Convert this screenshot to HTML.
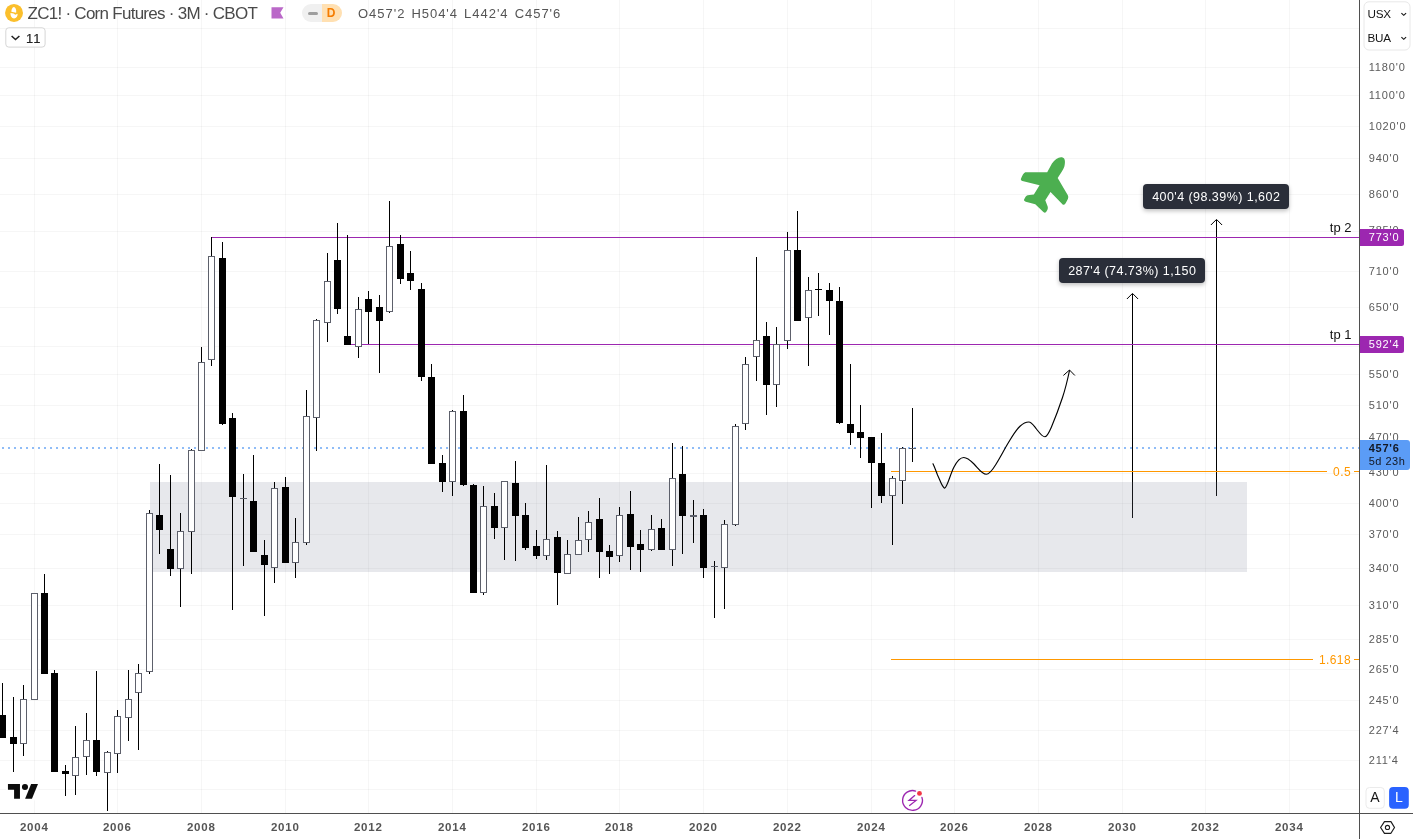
<!DOCTYPE html>
<html><head><meta charset="utf-8"><title>ZC1! Corn Futures</title>
<style>
*{box-sizing:border-box;margin:0;padding:0}
html,body{width:1413px;height:839px;overflow:hidden;background:#fff}
body{position:relative;font-family:"Liberation Sans",sans-serif;color:#555}
.abs{position:absolute}
.pl{position:absolute;left:1368.7px;height:14px;line-height:14px;font-size:11px;letter-spacing:0.85px;color:#5a5a5a;white-space:nowrap}
.yl{position:absolute;top:820px;width:60px;text-align:center;font-size:11.5px;font-weight:bold;letter-spacing:0.8px;color:#555;line-height:14px}
.tip{position:absolute;background:#2a2e39;color:#fff;border-radius:4px;font-size:12.5px;text-align:center;white-space:nowrap;letter-spacing:0.45px;padding-left:0.45px;box-shadow:0 2px 4px rgba(0,0,0,0.25)}
.tag{position:absolute;left:1360px;color:#fff;font-size:11px;letter-spacing:0.85px;padding-left:8.7px;white-space:nowrap}
</style></head><body>
<svg class="abs" style="left:0;top:0" width="1360" height="813" viewBox="0 0 1360 813" shape-rendering="crispEdges">
<rect x="34" y="0" width="1" height="813" fill="#000" fill-opacity="0.035"/>
<rect x="117" y="0" width="1" height="813" fill="#000" fill-opacity="0.035"/>
<rect x="201" y="0" width="1" height="813" fill="#000" fill-opacity="0.035"/>
<rect x="285" y="0" width="1" height="813" fill="#000" fill-opacity="0.035"/>
<rect x="368" y="0" width="1" height="813" fill="#000" fill-opacity="0.035"/>
<rect x="452" y="0" width="1" height="813" fill="#000" fill-opacity="0.035"/>
<rect x="536" y="0" width="1" height="813" fill="#000" fill-opacity="0.035"/>
<rect x="619" y="0" width="1" height="813" fill="#000" fill-opacity="0.035"/>
<rect x="703" y="0" width="1" height="813" fill="#000" fill-opacity="0.035"/>
<rect x="787" y="0" width="1" height="813" fill="#000" fill-opacity="0.035"/>
<rect x="871" y="0" width="1" height="813" fill="#000" fill-opacity="0.035"/>
<rect x="954" y="0" width="1" height="813" fill="#000" fill-opacity="0.035"/>
<rect x="1038" y="0" width="1" height="813" fill="#000" fill-opacity="0.035"/>
<rect x="1122" y="0" width="1" height="813" fill="#000" fill-opacity="0.035"/>
<rect x="1205" y="0" width="1" height="813" fill="#000" fill-opacity="0.035"/>
<rect x="1289" y="0" width="1" height="813" fill="#000" fill-opacity="0.035"/>
<rect x="0" y="28" width="1360" height="1" fill="#000" fill-opacity="0.035"/>
<rect x="0" y="67" width="1360" height="1" fill="#000" fill-opacity="0.035"/>
<rect x="0" y="95" width="1360" height="1" fill="#000" fill-opacity="0.035"/>
<rect x="0" y="126" width="1360" height="1" fill="#000" fill-opacity="0.035"/>
<rect x="0" y="158" width="1360" height="1" fill="#000" fill-opacity="0.035"/>
<rect x="0" y="194" width="1360" height="1" fill="#000" fill-opacity="0.035"/>
<rect x="0" y="231" width="1360" height="1" fill="#000" fill-opacity="0.035"/>
<rect x="0" y="271" width="1360" height="1" fill="#000" fill-opacity="0.035"/>
<rect x="0" y="307" width="1360" height="1" fill="#000" fill-opacity="0.035"/>
<rect x="0" y="346" width="1360" height="1" fill="#000" fill-opacity="0.035"/>
<rect x="0" y="374" width="1360" height="1" fill="#000" fill-opacity="0.035"/>
<rect x="0" y="405" width="1360" height="1" fill="#000" fill-opacity="0.035"/>
<rect x="0" y="438" width="1360" height="1" fill="#000" fill-opacity="0.035"/>
<rect x="0" y="473" width="1360" height="1" fill="#000" fill-opacity="0.035"/>
<rect x="0" y="503" width="1360" height="1" fill="#000" fill-opacity="0.035"/>
<rect x="0" y="534" width="1360" height="1" fill="#000" fill-opacity="0.035"/>
<rect x="0" y="568" width="1360" height="1" fill="#000" fill-opacity="0.035"/>
<rect x="0" y="605" width="1360" height="1" fill="#000" fill-opacity="0.035"/>
<rect x="0" y="639" width="1360" height="1" fill="#000" fill-opacity="0.035"/>
<rect x="0" y="669" width="1360" height="1" fill="#000" fill-opacity="0.035"/>
<rect x="0" y="700" width="1360" height="1" fill="#000" fill-opacity="0.035"/>
<rect x="0" y="730" width="1360" height="1" fill="#000" fill-opacity="0.035"/>
<rect x="0" y="760" width="1360" height="1" fill="#000" fill-opacity="0.035"/>
<rect x="0" y="789" width="1360" height="1" fill="#000" fill-opacity="0.035"/>
<rect x="1132" y="294" width="1" height="224" fill="#000"/>
<rect x="1216" y="220" width="1" height="276" fill="#000"/>
<rect x="150" y="482" width="1097" height="90" fill="#7c8298" fill-opacity="0.18"/>
<path d="M2 448h2 M8 448h2 M14 448h2 M20 448h2 M26 448h2 M32 448h2 M38 448h2 M44 448h2 M50 448h2 M56 448h2 M62 448h2 M68 448h2 M74 448h2 M80 448h2 M86 448h2 M92 448h2 M98 448h2 M104 448h2 M110 448h2 M116 448h2 M122 448h2 M128 448h2 M134 448h2 M140 448h2 M146 448h2 M152 448h2 M158 448h2 M164 448h2 M170 448h2 M176 448h2 M182 448h2 M188 448h2 M194 448h2 M200 448h2 M206 448h2 M212 448h2 M218 448h2 M224 448h2 M230 448h2 M236 448h2 M242 448h2 M248 448h2 M254 448h2 M260 448h2 M266 448h2 M272 448h2 M278 448h2 M284 448h2 M290 448h2 M296 448h2 M302 448h2 M308 448h2 M314 448h2 M320 448h2 M326 448h2 M332 448h2 M338 448h2 M344 448h2 M350 448h2 M356 448h2 M362 448h2 M368 448h2 M374 448h2 M380 448h2 M386 448h2 M392 448h2 M398 448h2 M404 448h2 M410 448h2 M416 448h2 M422 448h2 M428 448h2 M434 448h2 M440 448h2 M446 448h2 M452 448h2 M458 448h2 M464 448h2 M470 448h2 M476 448h2 M482 448h2 M488 448h2 M494 448h2 M500 448h2 M506 448h2 M512 448h2 M518 448h2 M524 448h2 M530 448h2 M536 448h2 M542 448h2 M548 448h2 M554 448h2 M560 448h2 M566 448h2 M572 448h2 M578 448h2 M584 448h2 M590 448h2 M596 448h2 M602 448h2 M608 448h2 M614 448h2 M620 448h2 M626 448h2 M632 448h2 M638 448h2 M644 448h2 M650 448h2 M656 448h2 M662 448h2 M668 448h2 M674 448h2 M680 448h2 M686 448h2 M692 448h2 M698 448h2 M704 448h2 M710 448h2 M716 448h2 M722 448h2 M728 448h2 M734 448h2 M740 448h2 M746 448h2 M752 448h2 M758 448h2 M764 448h2 M770 448h2 M776 448h2 M782 448h2 M788 448h2 M794 448h2 M800 448h2 M806 448h2 M812 448h2 M818 448h2 M824 448h2 M830 448h2 M836 448h2 M842 448h2 M848 448h2 M854 448h2 M860 448h2 M866 448h2 M872 448h2 M878 448h2 M884 448h2 M890 448h2 M896 448h2 M902 448h2 M908 448h2 M914 448h2 M920 448h2 M926 448h2 M932 448h2 M938 448h2 M944 448h2 M950 448h2 M956 448h2 M962 448h2 M968 448h2 M974 448h2 M980 448h2 M986 448h2 M992 448h2 M998 448h2 M1004 448h2 M1010 448h2 M1016 448h2 M1022 448h2 M1028 448h2 M1034 448h2 M1040 448h2 M1046 448h2 M1052 448h2 M1058 448h2 M1064 448h2 M1070 448h2 M1076 448h2 M1082 448h2 M1088 448h2 M1094 448h2 M1100 448h2 M1106 448h2 M1112 448h2 M1118 448h2 M1124 448h2 M1130 448h2 M1136 448h2 M1142 448h2 M1148 448h2 M1154 448h2 M1160 448h2 M1166 448h2 M1172 448h2 M1178 448h2 M1184 448h2 M1190 448h2 M1196 448h2 M1202 448h2 M1208 448h2 M1214 448h2 M1220 448h2 M1226 448h2 M1232 448h2 M1238 448h2 M1244 448h2 M1250 448h2 M1256 448h2 M1262 448h2 M1268 448h2 M1274 448h2 M1280 448h2 M1286 448h2 M1292 448h2 M1298 448h2 M1304 448h2 M1310 448h2 M1316 448h2 M1322 448h2 M1328 448h2 M1334 448h2 M1340 448h2 M1346 448h2 M1352 448h2 M1358 448h2" stroke="#8fbcf7" stroke-width="2" fill="none"/>
<rect x="211" y="237" width="1149" height="1" fill="#9c27b0"/>
<rect x="347" y="344" width="1013" height="1" fill="#9c27b0"/>
<rect x="891" y="471" width="436" height="1" fill="#ff9800"/>
<rect x="1354" y="471" width="6" height="1" fill="#ff9800"/>
<rect x="891" y="659" width="422" height="1" fill="#ff9800"/>
<rect x="1354" y="659" width="6" height="1" fill="#ff9800"/>
<rect x="2" y="683" width="1" height="55" fill="#000"/>
<rect x="-1" y="715" width="7" height="23" fill="#000"/>
<rect x="13" y="697" width="1" height="75" fill="#000"/>
<rect x="10" y="737" width="7" height="7" fill="#000"/>
<rect x="23" y="685" width="1" height="71" fill="#000"/>
<rect x="20.5" y="699.5" width="6" height="44" fill="#fff" stroke="#5d606b" stroke-width="1"/>
<rect x="34" y="593" width="1" height="107" fill="#000"/>
<rect x="31.5" y="593.5" width="6" height="106" fill="#fff" stroke="#5d606b" stroke-width="1"/>
<rect x="44" y="574" width="1" height="100" fill="#000"/>
<rect x="41" y="593" width="7" height="81" fill="#000"/>
<rect x="54" y="670" width="1" height="102" fill="#000"/>
<rect x="51" y="673" width="7" height="99" fill="#000"/>
<rect x="65" y="765" width="1" height="31" fill="#000"/>
<rect x="62" y="771" width="7" height="3" fill="#000"/>
<rect x="75" y="726" width="1" height="69" fill="#000"/>
<rect x="72.5" y="757.5" width="6" height="18" fill="#fff" stroke="#5d606b" stroke-width="1"/>
<rect x="86" y="713" width="1" height="62" fill="#000"/>
<rect x="83.5" y="740.5" width="6" height="16" fill="#fff" stroke="#5d606b" stroke-width="1"/>
<rect x="96" y="671" width="1" height="105" fill="#000"/>
<rect x="93" y="740" width="7" height="32" fill="#000"/>
<rect x="107" y="751" width="1" height="60" fill="#000"/>
<rect x="104.5" y="752.5" width="6" height="20" fill="#fff" stroke="#5d606b" stroke-width="1"/>
<rect x="117" y="710" width="1" height="63" fill="#000"/>
<rect x="114.5" y="716.5" width="6" height="37" fill="#fff" stroke="#5d606b" stroke-width="1"/>
<rect x="128" y="670" width="1" height="71" fill="#000"/>
<rect x="125.5" y="699.5" width="6" height="18" fill="#fff" stroke="#5d606b" stroke-width="1"/>
<rect x="138" y="664" width="1" height="86" fill="#000"/>
<rect x="135.5" y="673.5" width="6" height="19" fill="#fff" stroke="#5d606b" stroke-width="1"/>
<rect x="149" y="510" width="1" height="164" fill="#000"/>
<rect x="146.5" y="513.5" width="6" height="158" fill="#fff" stroke="#5d606b" stroke-width="1"/>
<rect x="159" y="464" width="1" height="90" fill="#000"/>
<rect x="156" y="515" width="7" height="15" fill="#000"/>
<rect x="170" y="475" width="1" height="101" fill="#000"/>
<rect x="167" y="549" width="7" height="20" fill="#000"/>
<rect x="180" y="513" width="1" height="94" fill="#000"/>
<rect x="177.5" y="531.5" width="6" height="37" fill="#fff" stroke="#5d606b" stroke-width="1"/>
<rect x="191" y="449" width="1" height="125" fill="#000"/>
<rect x="188.5" y="450.5" width="6" height="81" fill="#fff" stroke="#5d606b" stroke-width="1"/>
<rect x="201" y="347" width="1" height="104" fill="#000"/>
<rect x="198.5" y="362.5" width="6" height="88" fill="#fff" stroke="#5d606b" stroke-width="1"/>
<rect x="211" y="237" width="1" height="129" fill="#000"/>
<rect x="208.5" y="256.5" width="6" height="103" fill="#fff" stroke="#5d606b" stroke-width="1"/>
<rect x="222" y="242" width="1" height="183" fill="#000"/>
<rect x="219" y="258" width="7" height="166" fill="#000"/>
<rect x="232" y="413" width="1" height="197" fill="#000"/>
<rect x="229" y="418" width="7" height="79" fill="#000"/>
<rect x="243" y="474" width="1" height="92" fill="#000"/>
<rect x="240" y="498" width="7" height="1" fill="#5d606b"/>
<rect x="253" y="455" width="1" height="97" fill="#000"/>
<rect x="250" y="501" width="7" height="51" fill="#000"/>
<rect x="264" y="540" width="1" height="76" fill="#000"/>
<rect x="261" y="555" width="7" height="10" fill="#000"/>
<rect x="274" y="482" width="1" height="101" fill="#000"/>
<rect x="271.5" y="488.5" width="6" height="79" fill="#fff" stroke="#5d606b" stroke-width="1"/>
<rect x="285" y="477" width="1" height="86" fill="#000"/>
<rect x="282" y="487" width="7" height="76" fill="#000"/>
<rect x="295" y="518" width="1" height="60" fill="#000"/>
<rect x="292.5" y="542.5" width="6" height="20" fill="#fff" stroke="#5d606b" stroke-width="1"/>
<rect x="306" y="390" width="1" height="155" fill="#000"/>
<rect x="303.5" y="416.5" width="6" height="126" fill="#fff" stroke="#5d606b" stroke-width="1"/>
<rect x="316" y="319" width="1" height="132" fill="#000"/>
<rect x="313.5" y="320.5" width="6" height="97" fill="#fff" stroke="#5d606b" stroke-width="1"/>
<rect x="327" y="253" width="1" height="89" fill="#000"/>
<rect x="324.5" y="281.5" width="6" height="41" fill="#fff" stroke="#5d606b" stroke-width="1"/>
<rect x="337" y="223" width="1" height="91" fill="#000"/>
<rect x="334" y="260" width="7" height="49" fill="#000"/>
<rect x="347" y="235" width="1" height="110" fill="#000"/>
<rect x="344" y="336" width="7" height="9" fill="#000"/>
<rect x="358" y="297" width="1" height="61" fill="#000"/>
<rect x="355.5" y="309.5" width="6" height="37" fill="#fff" stroke="#5d606b" stroke-width="1"/>
<rect x="368" y="291" width="1" height="53" fill="#000"/>
<rect x="365" y="299" width="7" height="13" fill="#000"/>
<rect x="379" y="295" width="1" height="78" fill="#000"/>
<rect x="376" y="307" width="7" height="14" fill="#000"/>
<rect x="389" y="201" width="1" height="112" fill="#000"/>
<rect x="386.5" y="246.5" width="6" height="65" fill="#fff" stroke="#5d606b" stroke-width="1"/>
<rect x="400" y="235" width="1" height="49" fill="#000"/>
<rect x="397" y="244" width="7" height="35" fill="#000"/>
<rect x="410" y="251" width="1" height="39" fill="#000"/>
<rect x="407" y="273" width="7" height="8" fill="#000"/>
<rect x="421" y="283" width="1" height="98" fill="#000"/>
<rect x="418" y="289" width="7" height="88" fill="#000"/>
<rect x="431" y="364" width="1" height="100" fill="#000"/>
<rect x="428" y="377" width="7" height="87" fill="#000"/>
<rect x="442" y="455" width="1" height="37" fill="#000"/>
<rect x="439" y="463" width="7" height="19" fill="#000"/>
<rect x="452" y="410" width="1" height="86" fill="#000"/>
<rect x="449.5" y="411.5" width="6" height="70" fill="#fff" stroke="#5d606b" stroke-width="1"/>
<rect x="463" y="395" width="1" height="91" fill="#000"/>
<rect x="460" y="411" width="7" height="74" fill="#000"/>
<rect x="473" y="484" width="1" height="109" fill="#000"/>
<rect x="470" y="485" width="7" height="108" fill="#000"/>
<rect x="483" y="486" width="1" height="109" fill="#000"/>
<rect x="480.5" y="506.5" width="6" height="86" fill="#fff" stroke="#5d606b" stroke-width="1"/>
<rect x="494" y="493" width="1" height="46" fill="#000"/>
<rect x="491" y="506" width="7" height="22" fill="#000"/>
<rect x="504" y="481" width="1" height="79" fill="#000"/>
<rect x="501.5" y="481.5" width="6" height="46" fill="#fff" stroke="#5d606b" stroke-width="1"/>
<rect x="515" y="461" width="1" height="100" fill="#000"/>
<rect x="512" y="483" width="7" height="33" fill="#000"/>
<rect x="525" y="503" width="1" height="47" fill="#000"/>
<rect x="522" y="515" width="7" height="33" fill="#000"/>
<rect x="536" y="530" width="1" height="29" fill="#000"/>
<rect x="533" y="546" width="7" height="10" fill="#000"/>
<rect x="546" y="465" width="1" height="95" fill="#000"/>
<rect x="543.5" y="539.5" width="6" height="16" fill="#fff" stroke="#5d606b" stroke-width="1"/>
<rect x="557" y="531" width="1" height="74" fill="#000"/>
<rect x="554" y="537" width="7" height="36" fill="#000"/>
<rect x="567" y="540" width="1" height="34" fill="#000"/>
<rect x="564.5" y="554.5" width="6" height="19" fill="#fff" stroke="#5d606b" stroke-width="1"/>
<rect x="578" y="517" width="1" height="38" fill="#000"/>
<rect x="575.5" y="540.5" width="6" height="14" fill="#fff" stroke="#5d606b" stroke-width="1"/>
<rect x="588" y="511" width="1" height="41" fill="#000"/>
<rect x="585.5" y="522.5" width="6" height="17" fill="#fff" stroke="#5d606b" stroke-width="1"/>
<rect x="599" y="498" width="1" height="80" fill="#000"/>
<rect x="596" y="519" width="7" height="33" fill="#000"/>
<rect x="609" y="545" width="1" height="29" fill="#000"/>
<rect x="606" y="551" width="7" height="6" fill="#000"/>
<rect x="619" y="507" width="1" height="55" fill="#000"/>
<rect x="616.5" y="515.5" width="6" height="40" fill="#fff" stroke="#5d606b" stroke-width="1"/>
<rect x="630" y="491" width="1" height="79" fill="#000"/>
<rect x="627" y="514" width="7" height="33" fill="#000"/>
<rect x="640" y="530" width="1" height="42" fill="#000"/>
<rect x="637" y="544" width="7" height="6" fill="#000"/>
<rect x="651" y="515" width="1" height="36" fill="#000"/>
<rect x="648.5" y="529.5" width="6" height="20" fill="#fff" stroke="#5d606b" stroke-width="1"/>
<rect x="661" y="519" width="1" height="31" fill="#000"/>
<rect x="658" y="528" width="7" height="22" fill="#000"/>
<rect x="672" y="443" width="1" height="123" fill="#000"/>
<rect x="669.5" y="478.5" width="6" height="71" fill="#fff" stroke="#5d606b" stroke-width="1"/>
<rect x="682" y="446" width="1" height="108" fill="#000"/>
<rect x="679" y="474" width="7" height="42" fill="#000"/>
<rect x="693" y="500" width="1" height="43" fill="#000"/>
<rect x="690" y="515" width="7" height="2" fill="#5d606b"/>
<rect x="703" y="509" width="1" height="69" fill="#000"/>
<rect x="700" y="515" width="7" height="53" fill="#000"/>
<rect x="714" y="561" width="1" height="57" fill="#000"/>
<rect x="711" y="566" width="7" height="1" fill="#5d606b"/>
<rect x="724" y="520" width="1" height="89" fill="#000"/>
<rect x="721.5" y="524.5" width="6" height="43" fill="#fff" stroke="#5d606b" stroke-width="1"/>
<rect x="735" y="424" width="1" height="102" fill="#000"/>
<rect x="732.5" y="426.5" width="6" height="98" fill="#fff" stroke="#5d606b" stroke-width="1"/>
<rect x="745" y="357" width="1" height="73" fill="#000"/>
<rect x="742.5" y="364.5" width="6" height="59" fill="#fff" stroke="#5d606b" stroke-width="1"/>
<rect x="756" y="257" width="1" height="124" fill="#000"/>
<rect x="753.5" y="340.5" width="6" height="16" fill="#fff" stroke="#5d606b" stroke-width="1"/>
<rect x="766" y="322" width="1" height="93" fill="#000"/>
<rect x="763" y="336" width="7" height="49" fill="#000"/>
<rect x="776" y="327" width="1" height="80" fill="#000"/>
<rect x="773.5" y="344.5" width="6" height="40" fill="#fff" stroke="#5d606b" stroke-width="1"/>
<rect x="787" y="232" width="1" height="117" fill="#000"/>
<rect x="784.5" y="250.5" width="6" height="90" fill="#fff" stroke="#5d606b" stroke-width="1"/>
<rect x="797" y="211" width="1" height="110" fill="#000"/>
<rect x="794" y="250" width="7" height="71" fill="#000"/>
<rect x="808" y="277" width="1" height="89" fill="#000"/>
<rect x="805.5" y="290.5" width="6" height="27" fill="#fff" stroke="#5d606b" stroke-width="1"/>
<rect x="818" y="273" width="1" height="43" fill="#000"/>
<rect x="815" y="289" width="7" height="1" fill="#000"/>
<rect x="829" y="283" width="1" height="52" fill="#000"/>
<rect x="826" y="290" width="7" height="11" fill="#000"/>
<rect x="839" y="287" width="1" height="137" fill="#000"/>
<rect x="836" y="301" width="7" height="122" fill="#000"/>
<rect x="850" y="364" width="1" height="81" fill="#000"/>
<rect x="847" y="424" width="7" height="9" fill="#000"/>
<rect x="860" y="405" width="1" height="53" fill="#000"/>
<rect x="857" y="432" width="7" height="6" fill="#000"/>
<rect x="871" y="437" width="1" height="71" fill="#000"/>
<rect x="868" y="437" width="7" height="26" fill="#000"/>
<rect x="881" y="433" width="1" height="70" fill="#000"/>
<rect x="878" y="463" width="7" height="33" fill="#000"/>
<rect x="892" y="476" width="1" height="69" fill="#000"/>
<rect x="889.5" y="478.5" width="6" height="17" fill="#fff" stroke="#5d606b" stroke-width="1"/>
<rect x="902" y="447" width="1" height="57" fill="#000"/>
<rect x="899.5" y="448.5" width="6" height="32" fill="#fff" stroke="#5d606b" stroke-width="1"/>
<rect x="912" y="408" width="1" height="54" fill="#000"/>
<rect x="909" y="448" width="7" height="1" fill="#5d606b"/>
</svg>
<svg class="abs" style="left:0;top:0" width="1360" height="813" viewBox="0 0 1360 813">
<path d="M1126.9 299L1132.5 293.4L1138.1 299" fill="none" stroke="#000" stroke-width="1"/>
<path d="M1210.9 225L1216.5 219.4L1222.1 225" fill="none" stroke="#000" stroke-width="1"/>
<path d="M933 463.75C935 468 936 471 937.5 475C940 480 942 487 944.5 488.25C947 488 950 475 953.75 467.5C957 461 960 457.5 963.75 457.5C967 457.5 970 460 973.75 463.75C978 468 982 474.25 986.25 474.25C990 474.25 993 469 996.25 463.75C1001 456 1005 448 1010 440C1013 435 1016 430 1020 426.25C1023 423.5 1026 422 1028.75 422C1031.5 422 1034 426 1036.25 428.75C1039 432 1042 437 1045 436.75C1047.5 436.5 1049.5 431.5 1051.25 427.5C1055.5 417.5 1059 408 1062.5 397.5C1065.5 388.5 1067.5 380 1069.5 370.5" fill="none" stroke="#000" stroke-width="1.15" stroke-linecap="round"/>
<path d="M1063.7 375.2L1069.5 370L1074.6 375.2" fill="none" stroke="#000" stroke-width="1" stroke-linecap="round"/>
</svg>
<!-- plane -->
<svg class="abs" style="left:1010px;top:145px" width="70" height="80" viewBox="0 0 734 839">
<path d="M440 195 C470 150 510 122 545 128 C580 135 582 180 570 225 C560 260 530 300 500 345 L605 525 C615 545 612 560 600 580 C585 610 575 632 555 626 L425 492 L370 580 L395 645 C400 665 395 680 385 693 C375 708 368 716 350 703 L265 622 L165 594 C145 588 143 578 152 565 C162 548 168 532 185 528 L250 518 L310 422 L130 377 C112 372 110 362 118 347 C130 325 140 295 160 287 L390 285 Z" fill="#4caf50"/>
</svg>
<div class="tip" style="left:1143px;top:184px;width:146px;height:25px;line-height:27px">400'4 (98.39%) 1,602</div>
<div class="tip" style="left:1059px;top:258px;width:146px;height:25px;line-height:27px">287'4 (74.73%) 1,150</div>
<div class="abs" style="left:1299.5px;width:52px;text-align:right;top:220.5px;font-size:13px;color:#111;line-height:14px;white-space:nowrap">tp 2</div>
<div class="abs" style="left:1299.5px;width:52px;text-align:right;top:327.5px;font-size:13px;color:#111;line-height:14px;white-space:nowrap">tp 1</div>
<div class="abs" style="left:1300px;width:51px;text-align:right;top:464.5px;font-size:12px;color:#ff9800;line-height:14px;letter-spacing:0.4px;white-space:nowrap">0.5</div>
<div class="abs" style="left:1290px;width:61px;text-align:right;top:652.5px;font-size:12px;color:#ff9800;line-height:14px;letter-spacing:0.4px;white-space:nowrap">1.618</div>

<!-- legend -->
<svg class="abs" style="left:3px;top:2px" width="24" height="22" viewBox="0 0 915 839">
<circle cx="420" cy="418" r="342" fill="#fbbf2c"/>
<path d="M415 188C475 200 515 285 502 412L318 372C318 290 350 200 415 188Z" fill="#fff"/>
<path d="M283 424L400 440L470 482L557 450C562 540 512 622 420 632C328 626 278 540 283 424Z" fill="#fff"/>
</svg>
<div class="abs" id="title" style="left:27.5px;top:4px;font-size:17px;line-height:20px;color:#4a4a4a;white-space:nowrap;letter-spacing:-0.73px">ZC1! · Corn Futures · 3M · CBOT</div>
<svg class="abs" style="left:271px;top:7px" width="13" height="12" viewBox="0 0 13 12"><path d="M0.5 0.3H12.5L9.2 5.8L12.5 11.4H0.5Z" fill="#ba68c8"/></svg>
<div class="abs" style="left:302px;top:4px;width:20px;height:18px;background:#f0f0f0;border-radius:9px 0 0 9px"></div>
<div class="abs" style="left:322px;top:4px;width:20px;height:18px;background:#ffe0b2;border-radius:0 9px 9px 0;color:#f57c00;font-weight:bold;font-size:12px;line-height:18px;text-align:center;padding-right:2px">D</div>
<div class="abs" style="left:308px;top:11.5px;width:10px;height:3px;border-radius:1.5px;background:#9e9e9e"></div>
<div class="abs" id="ohlc" style="left:358px;top:5.8px;font-size:13px;line-height:16px;color:#555;white-space:nowrap;letter-spacing:0.97px;word-spacing:1.5px">O457'2 H504'4 L442'4 C457'6</div>
<svg class="abs" style="left:0;top:20px" width="60" height="34" viewBox="0 20 60 34"><rect x="5.8" y="27.8" width="39.3" height="19.3" rx="3" fill="#fff" stroke="#d6d6d6" stroke-width="1"/></svg>
<svg class="abs" style="left:10.4px;top:33.7px" width="11" height="8" viewBox="0 0 11 8"><path d="M1.6 2L5.5 5.6L9.4 2" fill="none" stroke="#222" stroke-width="1.5"/></svg>
<div class="abs" style="left:26px;top:31px;font-size:13px;line-height:16px;color:#222;letter-spacing:0.9px;-webkit-text-stroke:0.18px #222">11</div>

<!-- TV logo -->
<svg class="abs" style="left:0;top:775px" width="60" height="36" viewBox="0 0 1398 839">
<rect x="140" y="170" width="760" height="420" fill="#fff"/>
<path d="M185 210H465V555H328V345H185Z" fill="#0c0c0c"/>
<circle cx="582" cy="278" r="71" fill="#0c0c0c"/>
<path d="M725 210H885L745 555H585Z" fill="#0c0c0c"/>
</svg>

<!-- lightning icon -->
<svg class="abs" style="left:895px;top:785px" width="35" height="30" viewBox="0 0 979 839">
<path d="M753.4 346.4A277 277 0 1 1 575.6 168.6" fill="none" stroke="#9c27b0" stroke-width="38" stroke-linecap="round"/>
<path d="M550 296L392 432H588L408 572" fill="none" stroke="#9c27b0" stroke-width="36" stroke-linejoin="miter" stroke-linecap="round"/>
<circle cx="685" cy="235" r="68" fill="#f23645"/>
</svg>

<!-- axes -->
<div class="abs" style="left:1359px;top:0;width:1px;height:839px;background:#4f4f4f"></div>
<div class="abs" style="left:0;top:813px;width:1413px;height:1px;background:#4f4f4f"></div>
<div class="pl" style="top:59.6px">1180'0</div>
<div class="pl" style="top:87.6px">1100'0</div>
<div class="pl" style="top:118.6px">1020'0</div>
<div class="pl" style="top:150.6px">940'0</div>
<div class="pl" style="top:186.6px">860'0</div>
<div class="pl" style="top:222.6px">785'0</div>
<div class="pl" style="top:263.6px">710'0</div>
<div class="pl" style="top:299.6px">650'0</div>
<div class="pl" style="top:366.6px">550'0</div>
<div class="pl" style="top:397.6px">510'0</div>
<div class="pl" style="top:429.6px">470'0</div>
<div class="pl" style="top:464.6px">430'0</div>
<div class="pl" style="top:495.6px">400'0</div>
<div class="pl" style="top:526.6px">370'0</div>
<div class="pl" style="top:560.6px">340'0</div>
<div class="pl" style="top:597.6px">310'0</div>
<div class="pl" style="top:631.6px">285'0</div>
<div class="pl" style="top:661.6px">265'0</div>
<div class="pl" style="top:692.6px">245'0</div>
<div class="pl" style="top:722.6px">227'4</div>
<div class="pl" style="top:752.6px">211'4</div>
<div class="yl" style="left:4.3px">2004</div>
<div class="yl" style="left:87.3px">2006</div>
<div class="yl" style="left:171.3px">2008</div>
<div class="yl" style="left:255.3px">2010</div>
<div class="yl" style="left:338.3px">2012</div>
<div class="yl" style="left:422.3px">2014</div>
<div class="yl" style="left:506.3px">2016</div>
<div class="yl" style="left:589.3px">2018</div>
<div class="yl" style="left:673.3px">2020</div>
<div class="yl" style="left:757.3px">2022</div>
<div class="yl" style="left:841.3px">2024</div>
<div class="yl" style="left:924.3px">2026</div>
<div class="yl" style="left:1008.3px">2028</div>
<div class="yl" style="left:1092.3px">2030</div>
<div class="yl" style="left:1175.3px">2032</div>
<div class="yl" style="left:1259.3px">2034</div>
<svg class="abs" style="left:1361px;top:0" width="52" height="54" viewBox="1361 0 52 54"><rect x="1364" y="1.8" width="46" height="48.2" rx="5" fill="#fff" stroke="#e8e8e8" stroke-width="1"/></svg>
<div class="abs" style="left:1367.5px;top:6px;font-size:11.7px;line-height:16px;color:#151515;letter-spacing:-0.2px">USX</div>
<div class="abs" style="left:1367.5px;top:30px;font-size:11.7px;line-height:16px;color:#151515;letter-spacing:-0.2px">BUA</div>
<svg class="abs" style="left:1400px;top:11px" width="8" height="7" viewBox="0 0 8 7"><path d="M1.4 2.1L3.75 4.3L6.1 2.1" fill="none" stroke="#151515" stroke-width="1.15"/></svg>
<svg class="abs" style="left:1400px;top:34.8px" width="8" height="7" viewBox="0 0 8 7"><path d="M1.4 2.1L3.75 4.3L6.1 2.1" fill="none" stroke="#151515" stroke-width="1.15"/></svg>

<div class="tag" style="top:229px;width:44px;height:17px;line-height:16.4px;background:#9c27b0;border-radius:0 2.5px 2.5px 0">773'0</div>
<div class="tag" style="top:336px;width:44px;height:17px;line-height:16.4px;background:#9c27b0;border-radius:0 2.5px 2.5px 0">592'4</div>
<div class="tag" style="top:440px;width:50px;height:30px;background:#5b9cf6;border-radius:0 3px 3px 0;color:#131722;line-height:13px;padding-top:2px"><b style="font-weight:bold;letter-spacing:0.75px">457'6</b><br><span style="letter-spacing:0.5px">5d 23h</span></div>

<svg class="abs" style="left:1361px;top:782px" width="52" height="32" viewBox="1361 782 52 32"><rect x="1366" y="787.5" width="18.3" height="20.8" rx="3.5" fill="#fff" stroke="#ebebeb" stroke-width="1"/><rect x="1389.1" y="787" width="19.7" height="21.8" rx="4" fill="#2962ff"/></svg>
<div class="abs" style="left:1365.5px;top:787px;width:19px;height:22px;color:#151515;font-size:14px;line-height:21.6px;text-align:center">A</div>
<div class="abs" style="left:1389px;top:787px;width:20px;height:22px;color:#fff;font-size:14px;line-height:21.6px;text-align:center">L</div>
<svg class="abs" style="left:1355px;top:780px" width="58" height="59" viewBox="0 0 825 839">
<path d="M364 675L419 592H511L562 675L511 758H419Z" fill="none" stroke="#1c1c1c" stroke-width="17" stroke-linejoin="round"/>
<circle cx="462" cy="675" r="30" fill="none" stroke="#1c1c1c" stroke-width="15"/>
</svg>
</body></html>
